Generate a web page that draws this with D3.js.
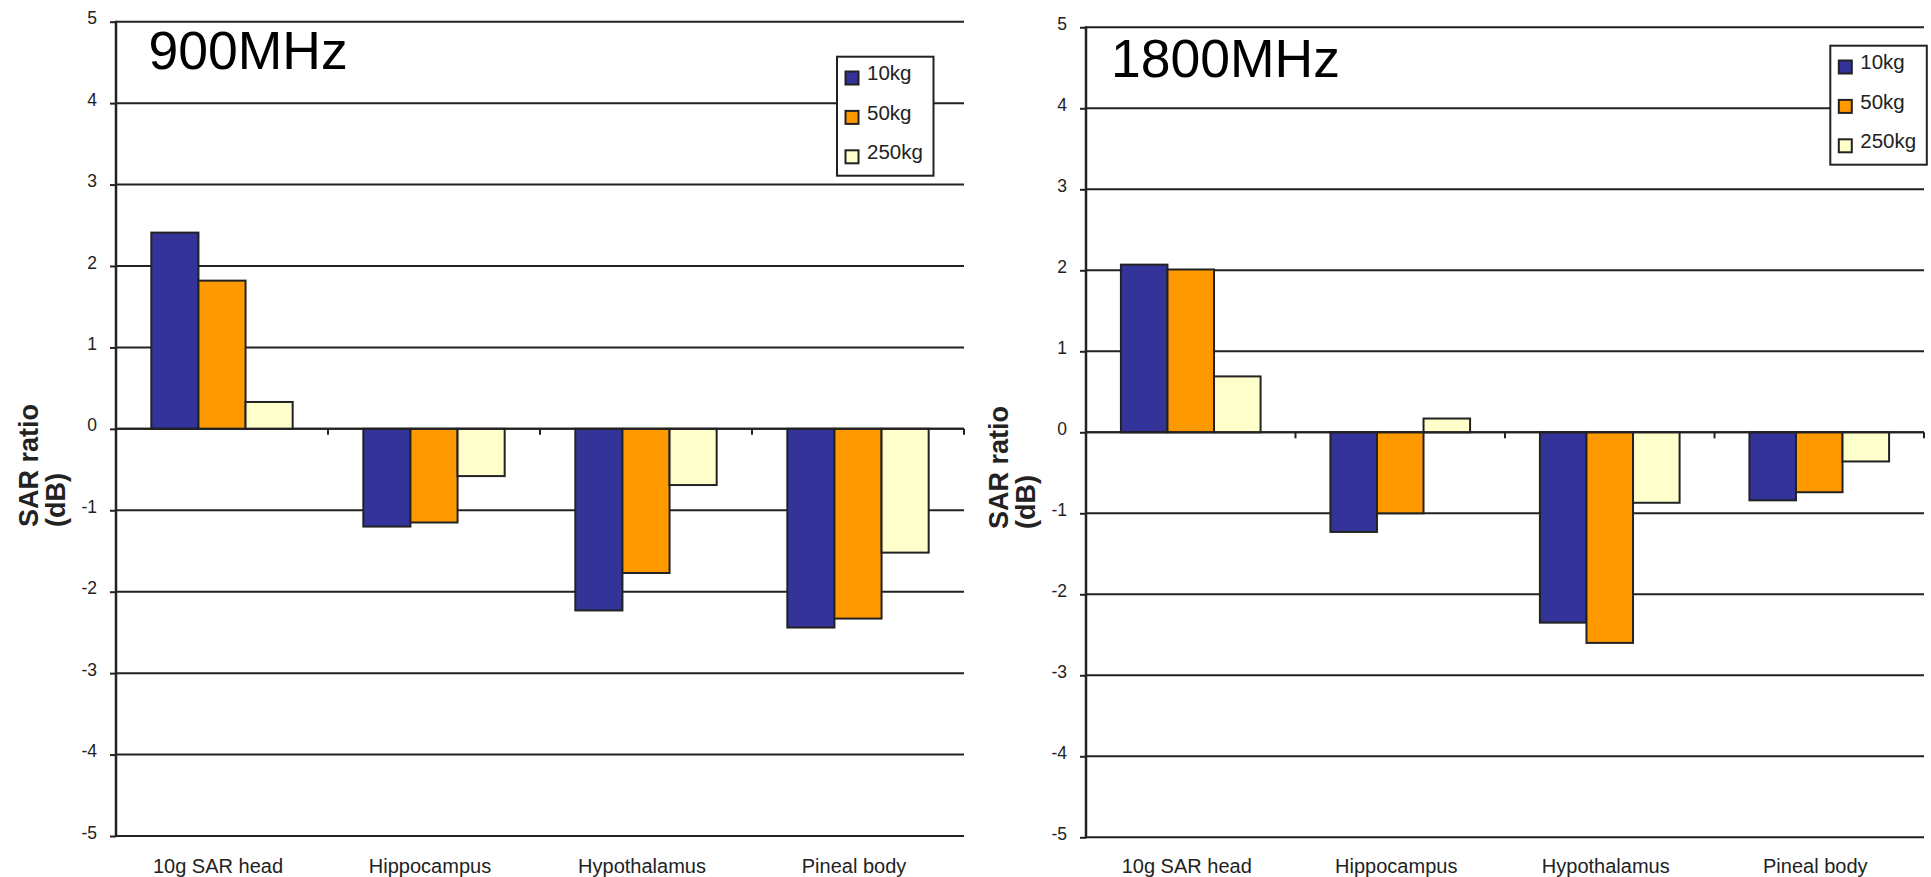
<!DOCTYPE html>
<html>
<head>
<meta charset="utf-8">
<script src="https://cdn.jsdelivr.net/npm/d3@7/dist/d3.min.js"></script>
<style>
  html, body { margin: 0; padding: 0; background: #fff; }
  svg { display: block; font-family: "Liberation Sans", Arial, sans-serif; }
</style>
</head>
<body>
<svg id="chart" width="1931" height="877"></svg>
<script>
// ---- data ----
const categories = ["10g SAR head", "Hippocampus", "Hypothalamus", "Pineal body"];
const seriesNames = ["10kg", "50kg", "250kg"];
const seriesColors = ["#333399", "#FF9900", "#FFFFCC"];
const yTicks = [5, 4, 3, 2, 1, 0, -1, -2, -3, -4, -5];

const mhz900_10kg  = [2.41, -1.20, -2.23, -2.44];
const mhz900_50kg  = [1.82, -1.15, -1.77, -2.33];
const mhz900_250kg = [0.33, -0.58, -0.69, -1.52];

const mhz1800_10kg  = [2.07, -1.23, -2.35, -0.84];
const mhz1800_50kg  = [2.01, -1.00, -2.60, -0.74];
const mhz1800_250kg = [0.69,  0.17, -0.87, -0.36];

const yLabelLines = ["SAR ratio", "(dB)"];

// ---- layout ----
const panels = [
  { title: "900MHz", series: [mhz900_10kg, mhz900_50kg, mhz900_250kg],
    x0: 116, x1: 964, yTop: 21.7, yBot: 836,
    titleX: 148.5, titleY: 68.5,
    legendX: 837, legendY: 56.7,
    ylabX: 38, ylabY: 527 },
  { title: "1800MHz", series: [mhz1800_10kg, mhz1800_50kg, mhz1800_250kg],
    x0: 1086, x1: 1924, yTop: 27.3, yBot: 837.3,
    titleX: 1111, titleY: 76.7,
    legendX: 1830.3, legendY: 45.7,
    ylabX: 1008, ylabY: 529 }
];

const ink = "#222";
const svg = d3.select("#chart");

panels.forEach(p => {
  const g = svg.append("g");
  const y = d3.scaleLinear().domain([-5, 5]).range([p.yBot, p.yTop]);
  const x = d3.scaleBand().domain(categories).range([p.x0, p.x1])
    .paddingInner(1 / 3).paddingOuter(1 / 6);
  const xs = d3.scaleBand().domain(seriesNames).range([0, x.bandwidth()]);

  // gridlines
  g.append("g").selectAll("line").data(yTicks).join("line")
    .attr("x1", p.x0).attr("x2", p.x1)
    .attr("y1", d => y(d)).attr("y2", d => y(d))
    .attr("stroke", ink).attr("stroke-width", 2);

  // bars
  seriesNames.forEach((s, si) => {
    g.append("g").selectAll("rect").data(p.series[si]).join("rect")
      .attr("x", (d, i) => x(categories[i]) + xs(s))
      .attr("width", xs.bandwidth())
      .attr("y", d => y(Math.max(0, d)))
      .attr("height", d => Math.abs(y(d) - y(0)))
      .attr("fill", seriesColors[si])
      .attr("stroke", ink).attr("stroke-width", 2);
  });

  // x axis line at zero + category boundary ticks
  g.append("line")
    .attr("x1", p.x0).attr("x2", p.x1)
    .attr("y1", y(0)).attr("y2", y(0))
    .attr("stroke", ink).attr("stroke-width", 2);
  g.append("g").selectAll("line").data(categories).join("line")
    .attr("x1", d => x(d) + x.bandwidth() / 2 + x.step() / 2)
    .attr("x2", d => x(d) + x.bandwidth() / 2 + x.step() / 2)
    .attr("y1", y(0)).attr("y2", y(0) + 6)
    .attr("stroke", ink).attr("stroke-width", 2);

  // category labels
  g.append("g").selectAll("text").data(categories).join("text")
    .attr("x", d => x(d) + x.bandwidth() / 2 - 4)
    .attr("y", 872.5)
    .attr("text-anchor", "middle")
    .attr("font-size", 20)
    .attr("fill", ink)
    .text(d => d);

  // y axis
  const yAxis = d3.axisLeft(y).tickValues(yTicks).tickSize(6).tickPadding(13)
    .tickFormat(d => String(d));
  const ya = g.append("g").attr("transform", `translate(${p.x0},0)`).call(yAxis);
  ya.select(".domain").remove();
  ya.selectAll(".tick line").attr("stroke", ink).attr("stroke-width", 2);
  ya.selectAll(".tick text").attr("font-size", 17.5).attr("fill", ink)
    .attr("font-family", "Liberation Sans, Arial, sans-serif").attr("dy", "0.12em");
  g.append("line")
    .attr("x1", p.x0).attr("x2", p.x0)
    .attr("y1", y(5) - 1).attr("y2", y(-5) + 1)
    .attr("stroke", ink).attr("stroke-width", 2.5);

  // y label
  const yl = g.append("text")
    .attr("transform", `translate(${p.ylabX},${p.ylabY}) rotate(-90)`)
    .attr("font-size", 27).attr("font-weight", "bold").attr("fill", ink);
  yLabelLines.forEach((t, i) => {
    yl.append("tspan").attr("x", 0).attr("dy", i === 0 ? 0 : 26.5).text(t);
  });

  // title
  g.append("text")
    .attr("x", p.titleX).attr("y", p.titleY)
    .attr("font-size", 53.5).attr("fill", "#000")
    .text(p.title);

  // legend
  const lg = g.append("g").attr("transform", `translate(${p.legendX},${p.legendY})`);
  lg.append("rect").attr("width", 96.5).attr("height", 119)
    .attr("fill", "#fff").attr("stroke", ink).attr("stroke-width", 2);
  seriesNames.forEach((s, i) => {
    const cy = 21.3 + i * 39.4;
    lg.append("rect").attr("x", 8.5).attr("y", cy - 6.5)
      .attr("width", 13).attr("height", 13)
      .attr("fill", seriesColors[i]).attr("stroke", ink).attr("stroke-width", 2);
    lg.append("text").attr("x", 30).attr("y", cy + 2.5)
      .attr("font-size", 20.5).attr("fill", ink).text(s);
  });
});
</script>
</body>
</html>
